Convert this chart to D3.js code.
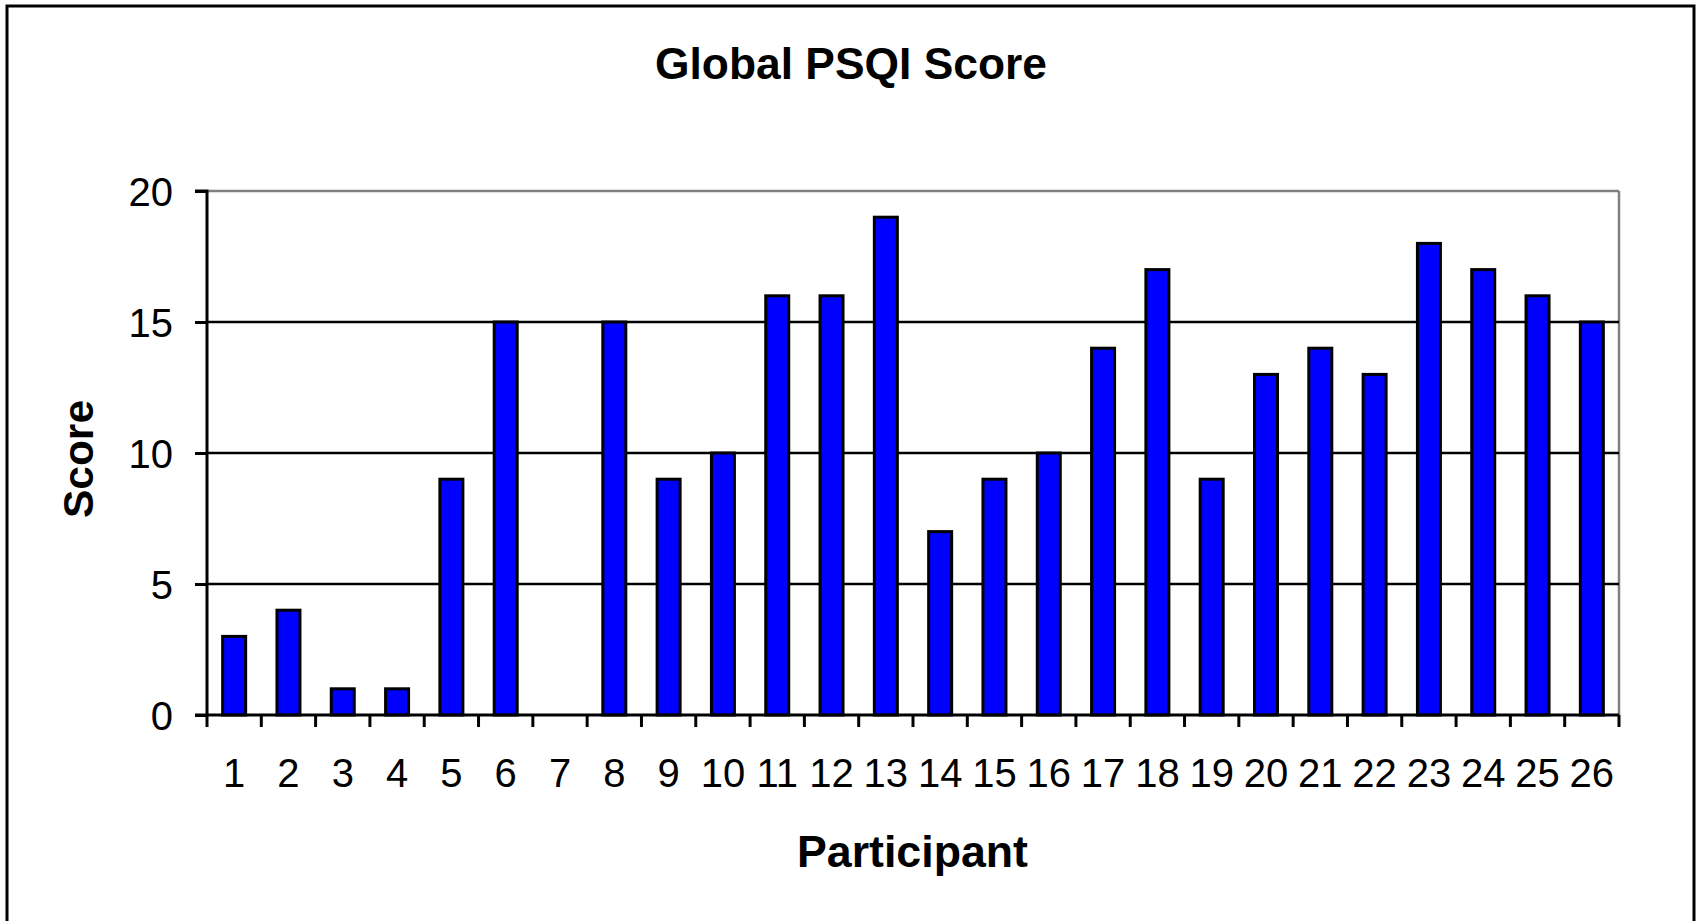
<!DOCTYPE html>
<html>
<head>
<meta charset="utf-8">
<script src="https://cdn.jsdelivr.net/npm/d3@7/dist/d3.min.js"></script>
<style>
  html, body { margin: 0; padding: 0; background: #fff; }
  svg { display: block; }
  text { font-family: "Liberation Sans", Arial, Helvetica, sans-serif; fill: #000; }
</style>
</head>
<body>
<svg id="chart" width="1696" height="921"></svg>
<script>
const participants = ["1","2","3","4","5","6","7","8","9","10","11","12","13","14","15","16","17","18","19","20","21","22","23","24","25","26"];
const scores = [3,4,1,1,9,15,0,15,9,10,16,16,19,7,9,10,14,17,9,13,14,13,18,17,16,15];
const yTicks = [0,5,10,15,20];
const titleText = "Global PSQI Score";
const xTitle = "Participant";
const yTitle = "Score";

const svg = d3.select("#chart");
const W = 1696, H = 921;
const plot = { left: 207, right: 1619, top: 191, bottom: 715 };

// outer frame
svg.append("rect")
  .attr("x", 7).attr("y", 6)
  .attr("width", 1694 - 7).attr("height", H + 20)
  .attr("fill", "none").attr("stroke", "#000").attr("stroke-width", 3);

const x = d3.scaleBand().domain(participants).range([plot.left, plot.right]).paddingInner(0).paddingOuter(0);
const y = d3.scaleLinear().domain([0, 20]).range([plot.bottom, plot.top]);

// plot frame top/right (gray)
svg.append("line").attr("x1", plot.left).attr("x2", plot.right)
  .attr("y1", y(20)).attr("y2", y(20)).attr("stroke", "#808080").attr("stroke-width", 2.5);
svg.append("line").attr("x1", plot.right).attr("x2", plot.right)
  .attr("y1", plot.top).attr("y2", plot.bottom).attr("stroke", "#808080").attr("stroke-width", 2.5);

// gridlines
svg.append("g").selectAll("line").data(yTicks.filter(d => d > 0 && d < 20)).join("line")
  .attr("x1", plot.left).attr("x2", plot.right)
  .attr("y1", d => y(d)).attr("y2", d => y(d))
  .attr("stroke", "#000").attr("stroke-width", 2.5);

// bars
const bw = 23;
svg.append("g").selectAll("rect").data(scores).join("rect")
  .attr("x", (d, i) => x(participants[i]) + x.bandwidth() / 2 - bw / 2)
  .attr("y", d => y(d))
  .attr("width", bw)
  .attr("height", d => y(0) - y(d))
  .attr("fill", "#0000FF")
  .attr("stroke", "#000").attr("stroke-width", 3)
  .style("display", d => d > 0 ? null : "none");

// y axis
const yAxis = d3.axisLeft(y).tickValues(yTicks).tickSize(12).tickPadding(22).tickFormat(d3.format("d"));
const gy = svg.append("g").attr("transform", `translate(${plot.left},0)`).call(yAxis);
gy.select(".domain").attr("stroke", "#000").attr("stroke-width", 3).attr("d", `M-12,${plot.top}H0V${plot.bottom}`);
gy.selectAll(".tick line").attr("stroke", "#000").attr("stroke-width", 3);
gy.selectAll(".tick text").attr("font-size", 40).attr("font-family", "Liberation Sans, Arial, sans-serif").attr("fill", "#000").attr("dy", "0.36em");

// x axis
const xAxis = d3.axisBottom(x).tickSize(0).tickPadding(44);
const gx = svg.append("g").attr("transform", `translate(0,${plot.bottom})`).call(xAxis);
gx.select(".domain").attr("stroke", "#000").attr("stroke-width", 3).attr("d", `M${plot.left - 12},0H${plot.right}`);
gx.selectAll(".tick text").attr("font-size", 40).attr("font-family", "Liberation Sans, Arial, sans-serif").attr("fill", "#000").attr("dy", "0.71em");
// category boundary ticks
const bounds = participants.map(p => x(p)).concat([plot.right]);
gx.append("g").selectAll("line").data(bounds).join("line")
  .attr("x1", d => d).attr("x2", d => d).attr("y1", 0).attr("y2", 12)
  .attr("stroke", "#000").attr("stroke-width", 3);

// titles
svg.append("text").attr("x", 851).attr("y", 79).attr("text-anchor", "middle")
  .attr("font-size", 44).attr("font-weight", "bold")
  .attr("textLength", 392).attr("lengthAdjust", "spacingAndGlyphs").text(titleText);
svg.append("text").attr("x", 912.5).attr("y", 867).attr("text-anchor", "middle")
  .attr("font-size", 44).attr("font-weight", "bold")
  .attr("textLength", 231).attr("lengthAdjust", "spacingAndGlyphs").text(xTitle);
svg.append("text").attr("transform", "translate(93,459) rotate(-90)").attr("text-anchor", "middle")
  .attr("font-size", 43).attr("font-weight", "bold")
  .attr("textLength", 118).attr("lengthAdjust", "spacingAndGlyphs").text(yTitle);
</script>
</body>
</html>
